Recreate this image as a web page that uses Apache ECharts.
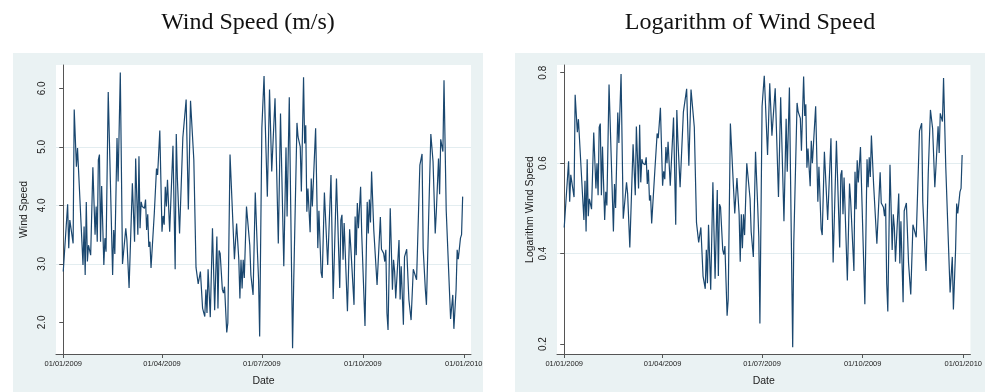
<!DOCTYPE html>
<html>
<head>
<meta charset="utf-8">
<script src="https://cdn.jsdelivr.net/npm/echarts@6/dist/echarts.min.js"></script>
<style>
  html, body { margin: 0; padding: 0; background: #fff; }
  #chart { width: 985px; height: 392px; }
</style>
</head>
<body>
<div id="chart"></div>
<script>
// days since 01/01/2009 where the line turns, and wind speed (m/s) there
var dayOffsets = [
  0, 4, 5, 6, 9, 10, 12, 13, 18, 19, 20, 21, 22, 23, 25, 27, 29, 30, 31, 32,
  33, 34, 35, 37, 38, 39, 41, 45, 46, 47, 49, 50, 52, 54, 57, 58, 60, 63, 65, 66,
  68, 69, 70, 71, 72, 74, 75, 76, 77, 78, 79, 80, 83, 85, 86, 88, 90, 91, 92, 93,
  94, 95, 97, 100, 102, 103, 104, 106, 107, 109, 110, 112, 114, 116, 119, 121, 123, 125, 127, 129,
  130, 131, 132, 134, 136, 138, 140, 141, 142, 143, 145, 146, 147, 149, 150, 152, 156, 157, 158, 160,
  161, 162, 163, 164, 165, 167, 170, 171, 173, 175, 177, 178, 179, 181, 183, 184, 185, 186, 188, 190,
  193, 196, 198, 201, 203, 204, 206, 209, 210, 211, 213, 214, 216, 217, 219, 220, 221, 222, 223, 225,
  226, 227, 230, 232, 233, 235, 236, 238, 241, 244, 246, 249, 252, 253, 254, 255, 256, 259, 261, 262,
  265, 266, 267, 268, 269, 271, 272, 275, 277, 278, 279, 280, 281, 283, 286, 289, 290, 292, 293, 294,
  295, 296, 298, 300, 301, 302, 303, 306, 307, 308, 310, 311, 313, 315, 317, 319, 320, 322, 325, 326,
  327, 328, 329, 330, 331, 333, 334, 335, 337, 339, 340, 342, 343, 344, 346, 347, 348, 349, 350, 353,
  355, 356, 358, 359, 360, 362, 363, 364
];
var windSpeed = [
  2.87, 4.02, 3.27, 3.75, 3.35, 5.64, 4.66, 4.98, 2.98, 3.64, 2.81, 4.06, 3.04, 3.32, 3.15, 4.65, 3.50, 3.98, 3.38, 4.78,
  4.87, 3.38, 4.33, 2.98, 3.44, 3.21, 5.94, 2.81, 3.58, 3.17, 5.15, 4.41, 6.27, 3.00, 3.61, 3.41, 2.59, 4.38, 3.38, 4.80,
  3.50, 4.84, 3.61, 4.06, 3.98, 3.95, 4.10, 3.58, 3.85, 3.29, 3.38, 2.93, 3.87, 4.63, 4.52, 5.28, 3.55, 3.82, 3.67, 4.32,
  3.98, 4.44, 3.55, 5.02, 2.91, 5.22, 4.47, 3.52, 3.55, 5.16, 5.19, 5.81, 3.93, 5.79, 4.78, 2.94, 2.66, 2.87, 2.24, 2.10,
  2.56, 2.16, 2.91, 2.09, 3.61, 2.21, 3.47, 2.24, 3.23, 3.18, 2.56, 2.50, 2.61, 1.83, 1.99, 4.87, 3.08, 3.07, 3.69, 3.07,
  2.41, 3.07, 2.58, 3.07, 2.76, 3.98, 3.32, 2.81, 2.47, 4.22, 3.19, 2.73, 1.76, 5.32, 6.21, 5.46, 5.43, 4.15, 5.98, 4.58,
  5.83, 3.35, 5.57, 2.96, 4.99, 3.81, 5.85, 1.56, 2.66, 2.64, 5.41, 5.17, 5.00, 4.24, 6.19, 5.06, 5.37, 3.89, 4.29, 3.54,
  4.46, 3.98, 5.32, 3.27, 3.91, 2.85, 2.76, 4.22, 2.98, 4.52, 2.40, 4.46, 2.59, 3.75, 3.84, 3.07, 3.70, 2.19, 3.59, 3.30,
  2.30, 3.81, 3.15, 4.04, 3.61, 4.32, 3.52, 1.94, 4.06, 3.52, 4.10, 3.71, 4.58, 3.58, 2.64, 3.80, 3.25, 3.18, 3.04, 3.24,
  2.16, 1.87, 3.95, 2.56, 3.07, 2.87, 2.41, 3.41, 2.39, 2.96, 1.96, 3.12, 3.25, 2.39, 2.04, 2.91, 2.90, 2.73, 4.69, 4.72,
  4.88, 3.27, 3.24, 2.56, 2.30, 3.78, 3.81, 5.22, 4.75, 3.52, 3.89, 4.80, 4.19, 5.13, 4.92, 6.14, 6.15, 3.92, 3.92, 2.06,
  2.47, 1.89, 2.56, 3.24, 3.08, 3.44, 3.50, 4.15
];

var dateTickDays = [0, 90, 181, 273, 365];
var dateTickLabels = ['01/01/2009', '01/04/2009', '01/07/2009', '01/10/2009', '01/01/2010'];
var speedTicks = [2, 3, 4, 5, 6];
var logTicks = [0.2, 0.4, 0.6, 0.8];

var speedData = dayOffsets.map(function (d, i) { return [d, windSpeed[i]]; });
// second panel is the base-10 log of the same series
var logData = dayOffsets.map(function (d, i) { return [d, Math.log10(windSpeed[i])]; });

var textColor = '#222';
var axisColor = '#555';
var lineColor = '#1a476f';
var panelColor = '#eaf2f3';

function xAxisFor(gridIndex) {
  return {
    type: 'value',
    gridIndex: gridIndex,
    min: -6.6,
    max: 371.6,
    name: 'Date',
    nameLocation: 'middle',
    nameGap: 22,
    nameTextStyle: { color: textColor, fontSize: 10.5, fontFamily: 'Liberation Sans' },
    axisLine: { show: true, lineStyle: { color: axisColor, width: 1 } },
    axisTick: { show: true, length: 4, customValues: dateTickDays, lineStyle: { color: axisColor } },
    axisLabel: {
      customValues: dateTickDays,
      margin: 6,
      fontSize: 7.5,
      color: textColor,
      fontFamily: 'Liberation Sans',
      formatter: function (v) { return dateTickLabels[dateTickDays.indexOf(v)]; }
    },
    splitLine: { show: false }
  };
}

function yAxisFor(gridIndex, opts) {
  return {
    type: 'value',
    gridIndex: gridIndex,
    min: opts.min,
    max: opts.max,
    splitNumber: opts.splitNumber,
    name: opts.name,
    nameLocation: 'middle',
    nameRotate: 90,
    nameGap: opts.nameGap,
    nameTextStyle: { color: textColor, fontSize: 10.5, fontFamily: 'Liberation Sans' },
    axisLine: { show: true, lineStyle: { color: axisColor, width: 1 } },
    axisTick: { show: true, length: 4, customValues: opts.ticks, lineStyle: { color: axisColor } },
    axisLabel: {
      customValues: opts.ticks,
      rotate: 90,
      margin: 9,
      fontSize: 10,
      color: textColor,
      fontFamily: 'Liberation Sans',
      formatter: function (v) { return v.toFixed(1); }
    },
    splitLine: {
      show: true,
      showMinLine: false,
      showMaxLine: false,
      lineStyle: { color: '#e3edf0', width: 1 }
    }
  };
}

var chart = echarts.init(document.getElementById('chart'));
chart.setOption({
  animation: false,
  backgroundColor: '#fff',
  graphic: [
    { type: 'rect', z: -10, shape: { x: 13, y: 53, width: 470, height: 339 }, style: { fill: panelColor } },
    { type: 'rect', z: -10, shape: { x: 515, y: 53, width: 470, height: 339 }, style: { fill: panelColor } },
    {
      type: 'text', x: 248, y: 23,
      style: { text: 'Wind Speed (m/s)', fill: '#111', font: '24px "Liberation Serif"', textAlign: 'center', textVerticalAlign: 'middle' }
    },
    {
      type: 'text', x: 750, y: 23,
      style: { text: 'Logarithm of Wind Speed', fill: '#111', font: '24px "Liberation Serif"', textAlign: 'center', textVerticalAlign: 'middle' }
    }
  ],
  grid: [
    { left: 56, top: 65, width: 415, height: 290, show: true, backgroundColor: '#fff', borderWidth: 0 },
    { left: 557, top: 65, width: 415, height: 290, show: true, backgroundColor: '#fff', borderWidth: 0 }
  ],
  xAxis: [xAxisFor(0), xAxisFor(1)],
  yAxis: [
    yAxisFor(0, { min: 1.46, max: 6.40, splitNumber: 5, ticks: speedTicks, name: 'Wind Speed', nameGap: 26 }),
    yAxisFor(1, { min: 0.178, max: 0.817, splitNumber: 3, ticks: logTicks, name: 'Logarithm Wind Speed', nameGap: 21 })
  ],
  series: [
    {
      type: 'line', xAxisIndex: 0, yAxisIndex: 0, data: speedData,
      showSymbol: false, lineStyle: { color: lineColor, width: 1.2 }
    },
    {
      type: 'line', xAxisIndex: 1, yAxisIndex: 1, data: logData,
      showSymbol: false, lineStyle: { color: lineColor, width: 1.2 }
    }
  ]
});
</script>
</body>
</html>
